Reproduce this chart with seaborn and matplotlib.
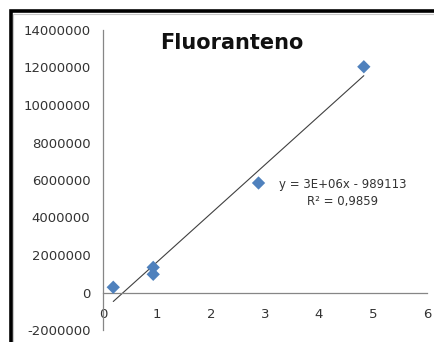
import matplotlib
matplotlib.use("Agg")
import matplotlib.pyplot as plt
from matplotlib.patches import Rectangle
import numpy as np
import pandas as pd
import seaborn as sns

# values
conc = [0.19, 0.93, 0.93, 2.88, 4.83]
area = [280000, 1340000, 970000, 5840000, 12040000]
yticks = [-2000000, 0, 2000000, 4000000, 6000000, 8000000, 10000000, 12000000, 14000000]
xticks = [0, 1, 2, 3, 4, 5, 6]
title = "Fluoranteno"
eq_text = "y = 3E+06x - 989113\nR² = 0,9859"

sns.set_style("white")
plt.rcParams["font.family"] = ["DejaVu Sans"]

df = pd.DataFrame({"conc": conc, "area": area})

W, H = 435, 342
fig = plt.figure(figsize=(W / 100, H / 100), dpi=100)
ax = fig.add_axes([103 / W, (H - 330) / H, (427 - 103) / W, 300 / H])

sns.regplot(data=df, x="conc", y="area", ax=ax, ci=None, scatter=False,
            line_kws={"color": "#404040", "lw": 0.8})
sns.scatterplot(data=df, x="conc", y="area", ax=ax, marker="D", s=46,
                color="#4F81BD", edgecolor="none", zorder=5)

ax.set_xlim(0, 6)
ax.set_ylim(-2000000, 14000000)
ax.set_xticks(xticks)
ax.set_yticks(yticks)
ax.set_xticklabels([str(t) for t in xticks])
ax.set_yticklabels([str(t) for t in yticks])
ax.set_xlabel("")
ax.set_ylabel("")

for s in ["top", "right"]:
    ax.spines[s].set_visible(False)
ax.spines["bottom"].set_position(("data", 0))
for s in ["left", "bottom"]:
    ax.spines[s].set_color("#868686")
    ax.spines[s].set_linewidth(0.9)
ax.tick_params(axis="both", direction="out", length=4, width=0.9,
               color="#868686", labelsize=9.5, labelcolor="#333333")
ax.tick_params(axis="x", pad=7)
ax.tick_params(axis="y", pad=5)
ax.set_facecolor("none")

ax.text(4.44, 5.3e6, eq_text, ha="center", va="center", fontsize=8.5,
        color="#333333", linespacing=1.45)

fig.text(232 / W, 1 - 43 / H, title, ha="center", va="center",
         fontsize=15, fontweight="bold", color="#111111")

# chart border (only top and left edges are visible in the crop)
fig.add_artist(Rectangle((13.5 / W, -0.2), 1.2, (H - 13.5) / H + 0.2,
                         transform=fig.transFigure, fill=False,
                         edgecolor="#c8c8c8", lw=0.8))
fig.add_artist(Rectangle((11 / W, -0.2), 1.2, (H - 11) / H + 0.2,
                         transform=fig.transFigure, fill=False,
                         edgecolor="black", lw=2.6))

fig.savefig("out.png", dpi=100)
